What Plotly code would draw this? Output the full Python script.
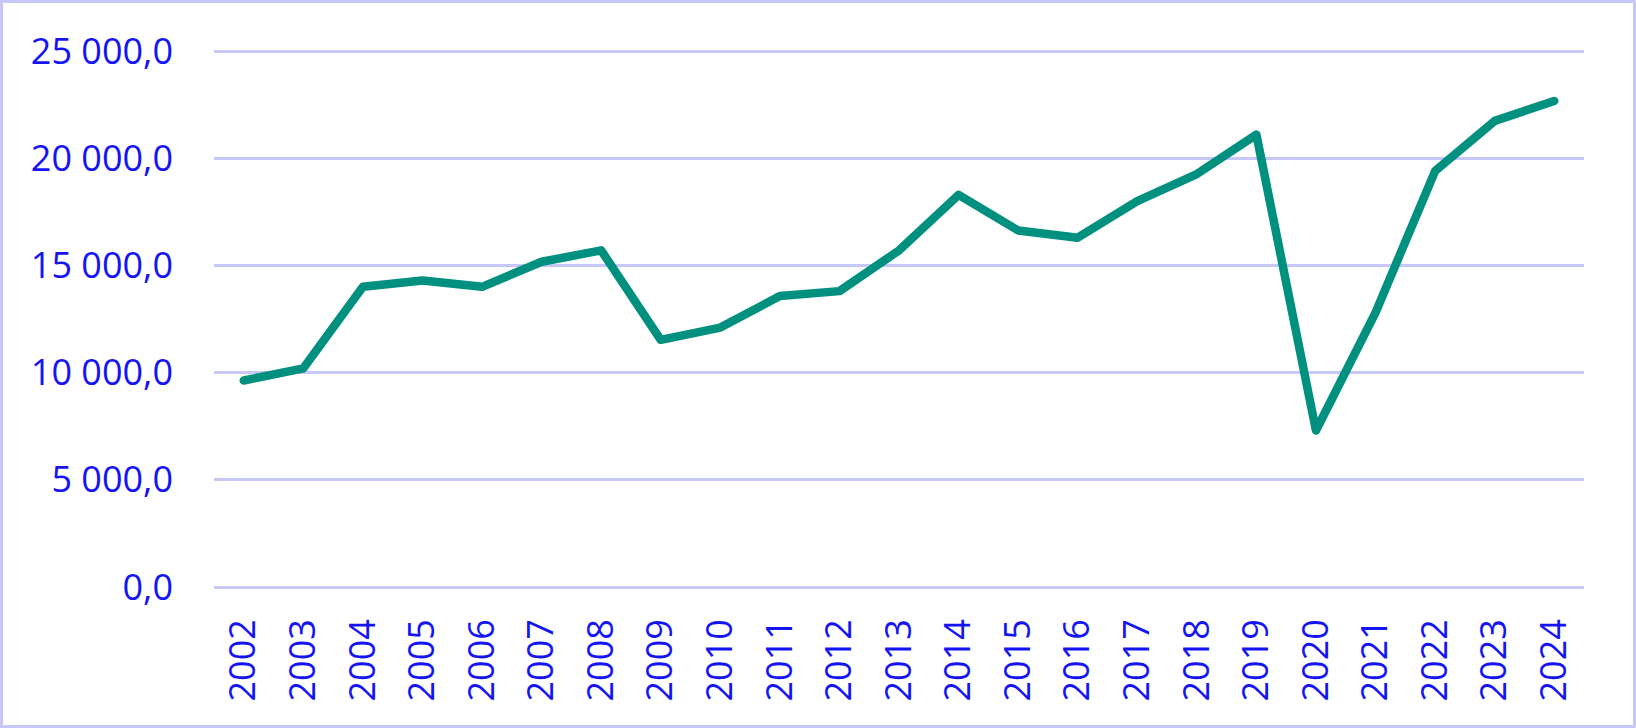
import plotly.graph_objects as go

years = [str(y) for y in range(2002, 2025)]
values = [9630, 10200, 14000, 14300, 14000, 15170, 15700, 11530, 12100, 13570,
          13800, 15700, 18290, 16630, 16290, 18000, 19260, 21100, 7300, 12800,
          19400, 21740, 22670]
ytick_vals = [0, 5000, 10000, 15000, 20000, 25000]
ytick_text = ["0,0", "5 000,0", "10 000,0", "15 000,0", "20 000,0", "25 000,0"]

W, H = 1636, 728
L, R, T, B = 214, 52, 49, 139
pw, ph = W - L - R, H - T - B
# plot spans from 25000 at y=51 to 0 at y=587; pad 2px each side so edge gridlines render
per_px = 25000 / 536
ymin, ymax = -2 * per_px, 25000 + 2 * per_px

fig = go.Figure()
fig.add_trace(go.Scatter(
    x=years, y=values, mode="lines",
    line=dict(color="#00907F", width=8.5, shape="linear"),
    hoverinfo="skip",
))

fig.update_layout(
    width=W, height=H,
    margin=dict(l=L, r=R, t=T, b=B, pad=0),
    paper_bgcolor="white", plot_bgcolor="white",
    showlegend=False,
    font=dict(family="Open Sans", color="#1414F5", size=36),
    xaxis=dict(
        type="category", range=[-0.5, len(years) - 0.5],
        showgrid=False, zeroline=False, showline=False,
        tickangle=-90, ticks="", ticklabelstandoff=22,
        tickfont=dict(size=36, color="#1414F5"),
        automargin=False,
    ),
    yaxis=dict(
        range=[ymin, ymax], tickvals=ytick_vals, ticktext=ytick_text,
        showgrid=True, gridcolor="#C8C8F8", gridwidth=2.5,
        zeroline=False, showline=False, ticks="", ticklabelstandoff=40,
        tickfont=dict(size=36, color="#1414F5"),
        automargin=False,
    ),
    shapes=[dict(
        type="rect", xref="paper", yref="paper",
        x0=(1.5 - L) / pw, x1=(W - 1.5 - L) / pw,
        y0=-(B - 1.5) / ph, y1=1 + (T - 1.5) / ph,
        line=dict(color="#C8C8F8", width=3), layer="below",
    )],
)

post = """
document.body.style.margin='0';
document.body.style.padding='0';
document.querySelectorAll('.js-line').forEach(function(e){
  e.style.strokeLinecap='round'; e.style.strokeLinejoin='round';
});
"""

fig.write_html("out.html", post_script=post, config={"displayModeBar": False})
